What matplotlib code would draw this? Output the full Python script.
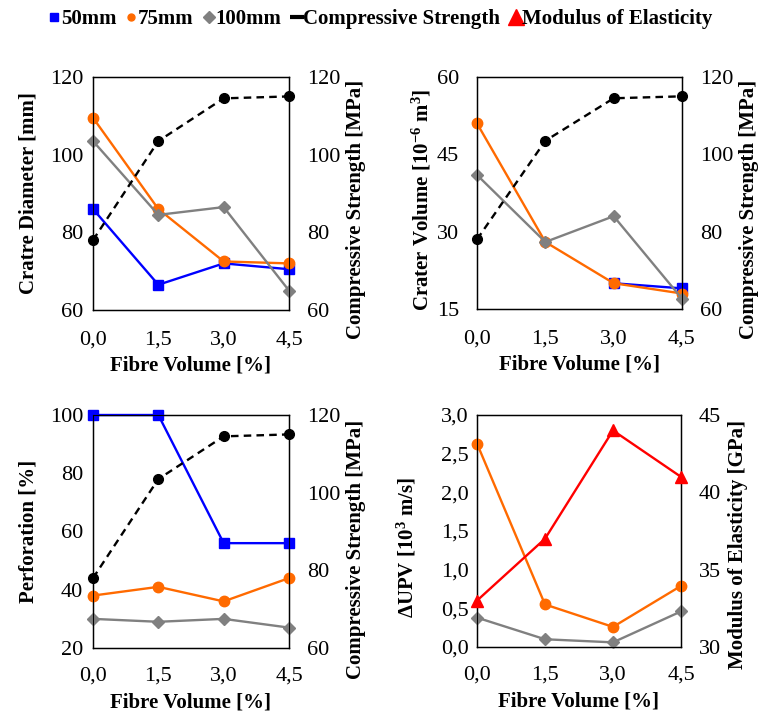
import numpy as np
import matplotlib
matplotlib.use("Agg")
import matplotlib.pyplot as plt
from matplotlib.lines import Line2D

plt.rcParams['font.family'] = ['Liberation Serif', 'DejaVu Serif']
plt.rcParams['mathtext.fontset'] = 'custom'
plt.rcParams['mathtext.rm'] = 'Liberation Serif'
plt.rcParams['mathtext.bf'] = 'Liberation Serif:bold'
plt.rcParams['mathtext.it'] = 'Liberation Serif:italic'

fibre = [0.0, 1.5, 3.0, 4.5]
xtick_labels = ["0,0", "1,5", "3,0", "4,5"]

compressive = [78, 103.5, 114.5, 115]

diam_50 = [86, 66.5, 72, 70.5]
diam_75 = [109.5, 86, 72.5, 72]
diam_100 = [103.5, 84.5, 86.5, 65]

vol_50 = [np.nan, np.nan, 20, 19]
vol_75 = [51, 28, 20, 18]
vol_100 = [41, 28, 33, 17]

perf_50 = [100, 100, 56, 56]
perf_75 = [38, 41, 36, 44]
perf_100 = [30, 29, 30, 27]

upv_75 = [2.63, 0.55, 0.26, 0.79]
upv_100 = [0.38, 0.10, 0.06, 0.46]
modulus = [33, 37, 44, 41]

BLUE = '#0000FF'
ORANGE = '#FF6A00'
GRAY = '#808080'
RED = '#FF0000'

W, H = 761, 713
fig = plt.figure(figsize=(W / 100, H / 100), dpi=100)

def ax_at(l, t, r, b):
    return fig.add_axes([l / W, 1 - b / H, (r - l) / W, (b - t) / H])

LW = 1.7
TICKFS = 16
LABFS = 15

def style(ax, ylim, yticks, ylab, lpad, ylabx, xlaby, xpad, ylaby=0.5, ytickfmt=None):
    ax.set_xlim(0, 4.5)
    ax.set_xticks(fibre)
    ax.set_xticklabels(xtick_labels)
    ax.set_ylim(*ylim)
    ax.set_yticks(yticks)
    if ytickfmt:
        ax.set_yticklabels([ytickfmt(v) for v in yticks])
    ax.tick_params(axis='both', length=0, labelsize=TICKFS)
    ax.tick_params(axis='x', pad=xpad)
    ax.tick_params(axis='y', pad=lpad)
    ax.set_xlabel("Fibre Volume [%]", fontsize=LABFS, fontweight='bold')
    ax.xaxis.set_label_coords(0.5, xlaby)
    ax.set_ylabel(ylab, fontsize=LABFS, fontweight='bold')
    ax.yaxis.set_label_coords(ylabx, ylaby)
    for s in ax.spines.values():
        s.set_linewidth(1.0)

def style_right(ax2, ylim, yticks, ylab, rpad, ylabx, ylaby):
    ax2.set_ylim(*ylim)
    ax2.set_yticks(yticks)
    ax2.tick_params(axis='y', length=0, labelsize=TICKFS, pad=rpad)
    ax2.set_ylabel(ylab, fontsize=LABFS, fontweight='bold')
    ax2.yaxis.set_label_coords(ylabx, ylaby)

def plot_series(ax, y, color, marker, ms, z=3):
    ax.plot(fibre, y, color=color, lw=LW, marker=marker, ms=ms,
            markeredgecolor=color, markerfacecolor=color, clip_on=False, zorder=z)

def plot_comp(ax):
    ax.plot(fibre, compressive, color='black', lw=LW, ls=(0, (3.2, 2.2)),
            marker='o', ms=7, clip_on=False, zorder=4)

# Top-left
ax1 = ax_at(93, 77, 289, 310)
plot_series(ax1, diam_50, BLUE, 's', 7.5)
plot_series(ax1, diam_75, ORANGE, 'o', 7.5)
plot_series(ax1, diam_100, GRAY, 'D', 6)
style(ax1, (60, 120), [60, 80, 100, 120], "Cratre Diameter [mm]", 7, -0.28, -0.196, 15)
ax1b = ax1.twinx()
plot_comp(ax1b)
style_right(ax1b, (60, 120), [60, 80, 100, 120], "Compressive Strength [MPa]", 13, 1.29, 0.43)

# Top-right
ax2 = ax_at(477, 77, 682, 309)
plot_series(ax2, vol_50, BLUE, 's', 7.5)
plot_series(ax2, vol_75, ORANGE, 'o', 7.5)
plot_series(ax2, vol_100, GRAY, 'D', 6)
style(ax2, (15, 60), [15, 30, 45, 60], r"Crater Volume [10$^{\mathbf{-6}}$ m$^{\mathbf{3}}$]", 13, -0.215, -0.196, 15,
      ylaby=0.47)
ax2b = ax2.twinx()
plot_comp(ax2b)
style_right(ax2b, (60, 120), [60, 80, 100, 120], "Compressive Strength [MPa]", 13, 1.28, 0.43)

# Bottom-left
ax3 = ax_at(93, 415, 289, 648)
plot_series(ax3, perf_50, BLUE, 's', 7.5)
plot_series(ax3, perf_75, ORANGE, 'o', 7.5)
plot_series(ax3, perf_100, GRAY, 'D', 6)
style(ax3, (20, 100), [20, 40, 60, 80, 100], "Perforation [%]", 7, -0.28, -0.19, 13)
ax3b = ax3.twinx()
plot_comp(ax3b)
style_right(ax3b, (60, 120), [60, 80, 100, 120], "Compressive Strength [MPa]", 13, 1.29, 0.425)

# Bottom-right
ax4 = ax_at(477, 415, 681, 647)
plot_series(ax4, upv_75, ORANGE, 'o', 7.5)
plot_series(ax4, upv_100, GRAY, 'D', 6)
style(ax4, (0, 3), [0, 0.5, 1.0, 1.5, 2.0, 2.5, 3.0], r"ΔUPV [10$^{\mathbf{3}}$ m/s]", 6, -0.29, -0.19, 13,
      ylaby=0.43, ytickfmt=lambda v: f"{v:.1f}".replace('.', ','))
ax4b = ax4.twinx()
ax4b.plot(fibre, modulus, color=RED, lw=LW, marker='^', ms=9, clip_on=False, zorder=4)
style_right(ax4b, (30, 45), [30, 35, 40, 45], "Modulus of Elasticity [GPa]", 13, 1.23, 0.44)

handles = [
    Line2D([], [], color=BLUE, marker='s', ls='none', ms=6),
    Line2D([], [], color=ORANGE, marker='o', ls='none', ms=5),
    Line2D([], [], color=GRAY, marker='D', ls='none', ms=6),
    Line2D([], [], color='black', marker='_', ls='none', ms=10, mew=3),
    Line2D([], [], color=RED, marker='^', ls='none', ms=11),
]
labels = ["50mm", "75mm", "100mm", "Compressive Strength", "Modulus of Elasticity"]
fig.legend(handles, labels, loc='center', bbox_to_anchor=(0.5, 1 - 19 / H), ncol=5,
           frameon=False, handlelength=0.55, handletextpad=0.05, columnspacing=0.45,
           prop={'weight': 'bold', 'size': 15})

fig.savefig("out.png", dpi=100)
